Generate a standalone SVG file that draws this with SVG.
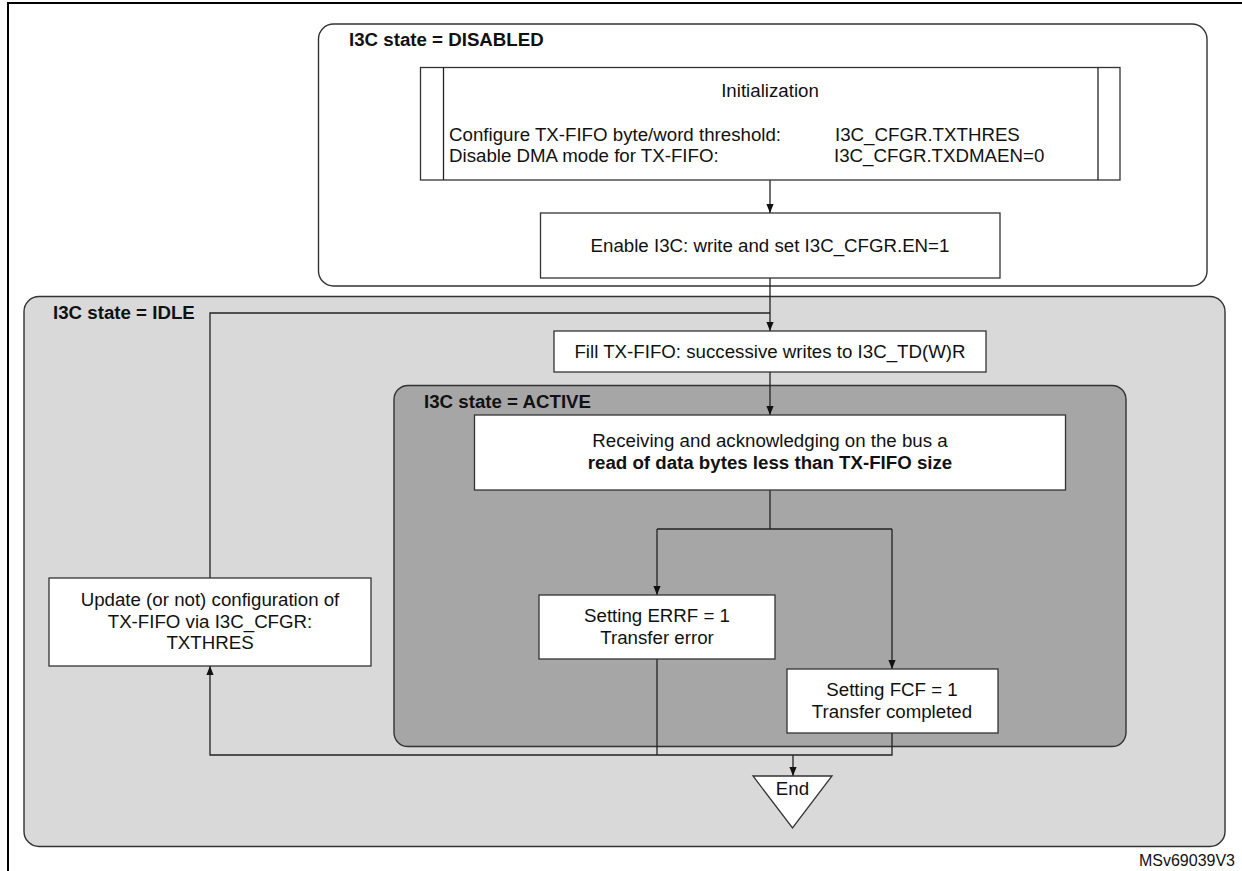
<svg xmlns="http://www.w3.org/2000/svg" width="1242" height="871" viewBox="0 0 1242 871">
<style>
  text { font-family: "Liberation Sans", Arial, sans-serif; font-size: 18.7px; fill: #111; }
  .b { font-weight: bold; }
  .c { text-anchor: middle; }
  .box { fill: #ffffff; stroke: #333333; stroke-width: 1.3; }
  .ln { fill: none; stroke: #222222; stroke-width: 1.3; }
  .frame { fill: none; stroke: #000000; stroke-width: 2; }
</style>
<defs>
  <marker id="arr" viewBox="0 0 10 10" refX="10" refY="5" markerWidth="9" markerHeight="9" markerUnits="userSpaceOnUse" orient="auto">
    <path d="M0,1 L10,5 L0,9 z" fill="#111111"/>
  </marker>
</defs>
<rect width="1242" height="871" fill="#ffffff"/>
<g id="frame">
  <path class="frame" d="M8,871 L8,3 L1242,3"/>
</g>
<g id="state-disabled">
  <rect x="318.5" y="24" width="888.5" height="262" rx="15" fill="#ffffff" stroke="#333333" stroke-width="1.4"/>
  <text class="b" x="349" y="46">I3C state = DISABLED</text>
</g>
<g id="state-idle">
  <rect x="24" y="296.5" width="1201" height="550" rx="15" fill="#d9d9d9" stroke="#333333" stroke-width="1.4"/>
  <text class="b" x="53" y="319">I3C state = IDLE</text>
</g>
<g id="state-active">
  <rect x="394" y="385.5" width="732" height="361" rx="14" fill="#a6a6a6" stroke="#333333" stroke-width="1.4"/>
  <text class="b" x="424" y="407.5">I3C state = ACTIVE</text>
</g>
<g id="connectors">
  <path class="ln" d="M770,180 L770,213" marker-end="url(#arr)"/>
  <path class="ln" d="M770,278 L770,331" marker-end="url(#arr)"/>
  <path class="ln" d="M210,578 L210,313 L770,313"/>
  <path class="ln" d="M770,372 L770,415" marker-end="url(#arr)"/>
  <path class="ln" d="M770,490 L770,529"/>
  <path class="ln" d="M657,529 L892,529"/>
  <path class="ln" d="M657,529 L657,595" marker-end="url(#arr)"/>
  <path class="ln" d="M892,529 L892,669" marker-end="url(#arr)"/>
  <path class="ln" d="M657,659 L657,755"/>
  <path class="ln" d="M892,733 L892,755 L210,755 L210,666" marker-end="url(#arr)"/>
  <path class="ln" d="M793,755 L793,776" marker-end="url(#arr)"/>
</g>
<g id="init">
  <rect class="box" x="420.5" y="67.5" width="699.5" height="112.5"/>
  <line class="ln" x1="443.5" y1="67.5" x2="443.5" y2="180"/>
  <line class="ln" x1="1098" y1="67.5" x2="1098" y2="180"/>
  <text class="c" x="770" y="96.5">Initialization</text>
  <text x="449" y="141">Configure TX-FIFO byte/word threshold:</text>
  <text x="835" y="141">I3C_CFGR.TXTHRES</text>
  <text x="449" y="162">Disable DMA mode for TX-FIFO:</text>
  <text x="834" y="162">I3C_CFGR.TXDMAEN=0</text>
</g>
<g id="enable">
  <rect class="box" x="540.5" y="213" width="459.5" height="65"/>
  <text class="c" x="770" y="252">Enable I3C: write and set I3C_CFGR.EN=1</text>
</g>
<g id="fill">
  <rect class="box" x="554" y="331" width="432" height="41"/>
  <text class="c" x="770" y="357.5">Fill TX-FIFO: successive writes to I3C_TD(W)R</text>
</g>
<g id="receiving">
  <rect class="box" x="474.5" y="415" width="591" height="75"/>
  <text class="c" x="770" y="447">Receiving and acknowledging on the bus a</text>
  <text class="c b" x="770" y="468.5">read of data bytes less than TX-FIFO size</text>
</g>
<g id="errf">
  <rect class="box" x="539" y="595" width="236" height="64"/>
  <text class="c" x="657" y="622">Setting ERRF = 1</text>
  <text class="c" x="657" y="644">Transfer error</text>
</g>
<g id="fcf">
  <rect class="box" x="787" y="669" width="211" height="64"/>
  <text class="c" x="892" y="696">Setting FCF = 1</text>
  <text class="c" x="892" y="718">Transfer completed</text>
</g>
<g id="update">
  <rect class="box" x="49" y="578" width="322" height="88"/>
  <text class="c" x="210" y="606">Update (or not) configuration of</text>
  <text class="c" x="210" y="628">TX-FIFO via I3C_CFGR:</text>
  <text class="c" x="210" y="649">TXTHRES</text>
</g>
<g id="end">
  <polygon points="753,776 832,776 792.5,828" fill="#ffffff" stroke="#333333" stroke-width="1.3"/>
  <text class="c" x="792.5" y="795">End</text>
</g>
<text x="1235" y="866" text-anchor="end" style="font-size:16px">MSv69039V3</text>
</svg>
